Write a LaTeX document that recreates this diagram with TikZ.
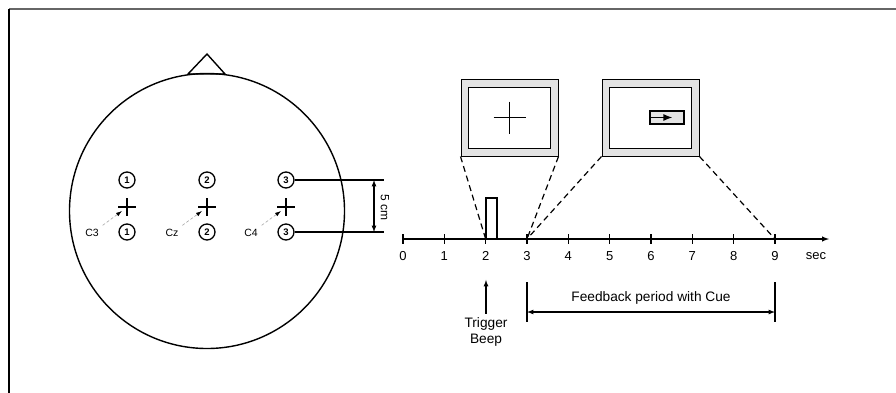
\documentclass[tikz,border=0pt]{standalone}
\usepackage{fontspec}
\setmainfont{Liberation Sans}
\usetikzlibrary{shapes,arrows,arrows.meta,positioning,calc}

\tikzset{
    elec/.style={circle, draw, line width=1.3pt, inner sep=0pt, minimum size=16pt, font=\fontsize{9.5}{9.5}\selectfont\bfseries},
    screen/.style={draw, line width=1pt, fill=gray!22, minimum width=97pt, minimum height=77pt},
    screenin/.style={draw, line width=1pt, fill=white, minimum width=82pt, minimum height=61pt},
    lbl/.style={font=\fontsize{13.7}{15.5}\selectfont},
    ticklbl/.style={font=\fontsize{13}{13}\selectfont},
}

\begin{document}
\begin{tikzpicture}[x=1pt, y=-1pt, line width=1.2pt]
    \useasboundingbox (0,0) rectangle (896,392);

    % Frame
    \draw[line width=2pt, gray!80!black] (9,9) -- (897,9);
    \draw[line width=1.3pt] (9,9) -- (9,393);

    % Head and nose
    \draw[line width=1.4pt] (207,211) circle (137.5);
    \draw[line width=1.4pt] (188,74) -- (207,54) -- (225,74) -- cycle;

    % Electrodes
    \foreach \x/\n/\lab in {127/1/C3, 207/2/Cz, 286/3/C4} {
        \node[elec] (e\n t) at (\x,180) {\n};
        \node[elec] (e\n b) at (\x,232) {\n};
        \coordinate (c\n) at (\x,207);
        \draw (\x-9,207) -- (\x+9,207);
        \draw (\x,198) -- (\x,216);
        \node[font=\fontsize{10.5}{10.5}\selectfont] (l\n) at (\x-35,233) {\lab};
        \draw[gray!70, densely dashed, line width=0.6pt, -{Latex[black, length=6pt, width=4pt]}] (l\n.north east) -- ($(c\n)+(-5,4)$);
    }

    % Distance 5 cm
    \coordinate (d1) at (384,180);
    \coordinate (d2) at (384,232);
    \coordinate (m1) at (374,180);
    \coordinate (m2) at (374,232);
    \draw (e3t.east) -- (d1);
    \draw (e3b.east) -- (d2);
    \draw[-latex] ($(m1)!0.5!(m2)$) -- (m1);
    \draw[-latex] ($(m1)!0.5!(m2)$) -- (m2);
    \node[rotate=-90, font=\fontsize{12}{12}\selectfont] (dist) at (385,207) {5 cm};

    % Time axis
    \coordinate (a0) at (403,239);
    \coordinate (aend) at (829,239);
    \draw[-latex, line width=1.4pt] (a0) -- (aend);
    \foreach \i in {0,...,9} {
        \coordinate (a\i) at (403+41.33*\i,239);
        \draw[line width=1.4pt] (403+41.33*\i,234) -- (403+41.33*\i,244);
        \node[ticklbl] (t\i) at (403+41.33*\i,256) {\i};
    }
    \node[ticklbl] (sec) at (816,256) {sec};

    % Beep
    \draw (486,239) rectangle (497,198);

    % Screens
    \node[screen] (s1) at (509.5,117.5) {};
    \node[screenin] (s1in) at (s1) {};
    \draw (s1.center) ++(-16,0) -- ++(32,0);
    \draw (s1.center) ++(0,-16) -- ++(0,32);
    \node[screen] (s2) at (650.5,117.5) {};
    \node[screenin] (s2in) at (s2) {};
    \node[draw, fill=gray!22, minimum width=34pt, minimum height=13pt, inner sep=0pt] (cue) at (667,117.5) {};
    \draw[-{Latex[length=9pt, width=7pt]}] (cue.west) -- ++(23,0);

    % Zoom lines
    \draw[dash pattern=on 6pt off 4pt] (s1.south west) -- (a2);
    \draw[dash pattern=on 6pt off 4pt] (s1.south east) -- (a3);
    \draw[dash pattern=on 6pt off 4pt] (s2.south west) -- (a3);
    \draw[dash pattern=on 6pt off 4pt] (s2.south east) -- (a9);

    % Trigger
    \node[lbl, align=center] (trig) at (486,332) {Trigger\\Beep};
    \draw[-latex] (trig.north) -- ++(0,-34);

    % Feedback period
    \coordinate (f1) at (527,282);
    \coordinate (f2) at (775,282);
    \draw (f1) -- ++(0,40);
    \draw (f2) -- ++(0,40);
    \draw[latex-latex] ($(f1)+(0,30)$) -- ($(f2)+(0,30)$);
    \node[lbl] (fb) at (651,298) {Feedback period with Cue};
\end{tikzpicture}
\end{document}
